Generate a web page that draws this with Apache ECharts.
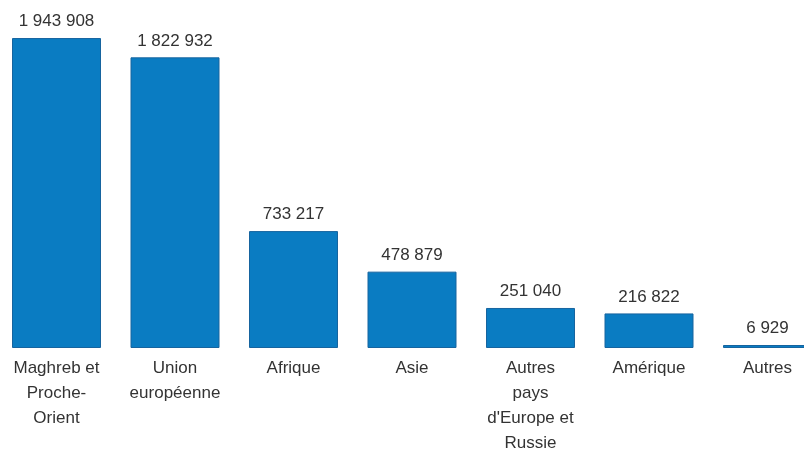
<!DOCTYPE html>
<html>
<head>
<meta charset="utf-8">
<script src="https://cdn.jsdelivr.net/npm/echarts@6/dist/echarts.min.js"></script>
<style>
html,body{margin:0;padding:0;background:#fff;}
#chart{width:804px;height:449px;}
</style>
</head>
<body>
<div id="chart"></div>
<script>
var categories = ["Maghreb et\nProche-\nOrient", "Union\neuropéenne", "Afrique", "Asie", "Autres\npays\nd'Europe et\nRussie", "Amérique", "Autres"];
var values = [1943908, 1822932, 733217, 478879, 251040, 216822, 6929];

function fmt(v) {
  return String(v).replace(/\B(?=(\d{3})+(?!\d))/g, ' ');
}

var chart = echarts.init(document.getElementById('chart'), null, {renderer: 'canvas'});
chart.setOption({
  animation: false,
  backgroundColor: '#ffffff',
  grid: {left: -2.75, width: 829.5, top: 29.1, bottom: 101, containLabel: false, outerBoundsMode: 'none'},
  xAxis: {
    type: 'category',
    data: categories,
    axisLine: {show: false},
    axisTick: {show: false},
    axisLabel: {
      interval: 0,
      margin: 8,
      color: '#333',
      fontFamily: 'Liberation Sans, Arial, sans-serif',
      fontSize: 17,
      lineHeight: 25,
      align: 'center',
      hideOverlap: false
    }
  },
  yAxis: {
    type: 'value',
    min: 0,
    max: 2000000,
    show: false,
    splitLine: {show: false}
  },
  series: [{
    type: 'bar',
    data: values,
    barWidth: 89,
    barMinHeight: 3,
    itemStyle: {color: '#0a7cc2', borderColor: '#16649f', borderWidth: 1},
    label: {
      show: true,
      position: 'top',
      distance: 8,
      color: '#333',
      fontFamily: 'Liberation Sans, Arial, sans-serif',
      fontSize: 17,
      formatter: function (p) { return fmt(p.value); }
    }
  }]
});
</script>
</body>
</html>
